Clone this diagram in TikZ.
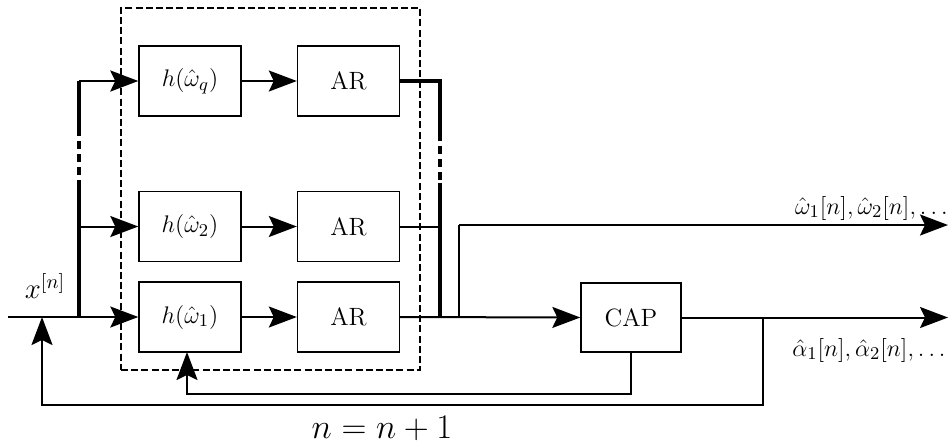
\documentclass[tikz,border=0pt]{standalone}
\usetikzlibrary{arrows.meta}
\begin{document}
\begin{tikzpicture}[x=0.5pt,y=-0.5pt,
  blk/.style={draw, line width=0.7pt, minimum width=51pt, minimum height=35pt, inner sep=0pt, font=\fontsize{12.5}{15}\selectfont},
  conn/.style={line width=1pt},
  arr/.style={conn, -{Stealth[length=14pt,width=10.5pt,inset=2.5pt]}},
  bus/.style={line width=1.6pt},
  busdash/.style={line width=1.6pt, dash pattern=on 4pt off 2.5pt},
  lbl/.style={font=\fontsize{12.5}{15}\selectfont, inner sep=0pt}]
\useasboundingbox (0,0) rectangle (951,446);
% dashed group
\node[draw, dash pattern=on 3.5pt off 1.6pt, line width=0.8pt, minimum width=149.5pt, minimum height=181pt, inner sep=0pt] (grp) at (270.5,189) {};
% blocks
\node[blk] (hq) at (190,81) {$h(\hat\omega_q)$};
\node[blk] (h2) at (190,226.5) {$h(\hat\omega_2)$};
\node[blk] (h1) at (190,317) {$h(\hat\omega_1)$};
\node[blk] (arq) at (348.5,81) {AR};
\node[blk] (ar2) at (348.5,226.5) {AR};
\node[blk] (ar1) at (348.5,317) {AR};
\node[blk, minimum width=50pt, minimum height=34.5pt] (cap) at (631,317.5) {CAP};
% coordinates
\coordinate (in) at (8,317);
\coordinate (sp) at (79,317);
\coordinate (b2) at (79,226.5);
\coordinate (bd1) at (79,188);
\coordinate (bd2) at (79,132);
\coordinate (bq) at (79,81);
\coordinate (oq) at (440,81);
\coordinate (od1) at (440,133);
\coordinate (od2) at (440,183);
\coordinate (o2) at (440,226.5);
\coordinate (o1) at (440,317);
\coordinate (t1) at (459,317);
\coordinate (t2) at (459,225);
\coordinate (tout) at (948,225);
\coordinate (aout) at (948,317.5);
\coordinate (f1) at (763,317.5);
\coordinate (f2) at (763,405);
\coordinate (f3) at (42,405);
\coordinate (f4) at (42,317);
\coordinate (g1) at (631,394);
\coordinate (g2) at (187,394);
\coordinate (g3) at (187,352);
% input and splitting bus
\draw[conn] (in) -- (sp);
\draw[arr] (sp) -- (h1.west);
\draw[bus] (sp) -- (bd1);
\draw[busdash] (bd1) -- (bd2);
\draw[bus] (bd2) -- (bq);
\draw[arr, line width=1.4pt] (bq) -- (hq.west);
\draw[arr] (b2) -- (h2.west);
% internal
\draw[arr] (hq.east) -- (arq.west);
\draw[arr] (h2.east) -- (ar2.west);
\draw[arr] (h1.east) -- (ar1.west);
% output bus
\draw[bus] (arq.east) -- (oq) -- (od1);
\draw[busdash] (od1) -- (od2);
\draw[bus] (od2) -- (o1);
\draw[conn] (ar2.east) -- (o2);
\draw[arr] (ar1.east) -- (cap.west);
\draw[conn] (t1) -- (t2);
\draw[arr] (t2) -- (tout);
\draw[arr] (cap.east) -- (aout);
% feedback
\draw[arr] (f1) -- (f2) -- (f3) -- (f4);
\draw[arr] (cap.south) -- (g1) -- (g2) -- (g3);
% labels
\node[lbl, font=\fontsize{14.5}{17}\selectfont] (xl) at (45,286) {$x^{[n]}$};
\node[lbl, anchor=east] (ol) at (948,208) {$\hat\omega_1[n],\hat\omega_2[n],\ldots$};
\node[lbl, anchor=east] (al) at (946,350) {$\hat\alpha_1[n],\hat\alpha_2[n],\ldots$};
\node[inner sep=0pt, font=\fontsize{16.5}{20}\selectfont] (nl) at (382,428) {$n=n+1$};
\end{tikzpicture}
\end{document}
